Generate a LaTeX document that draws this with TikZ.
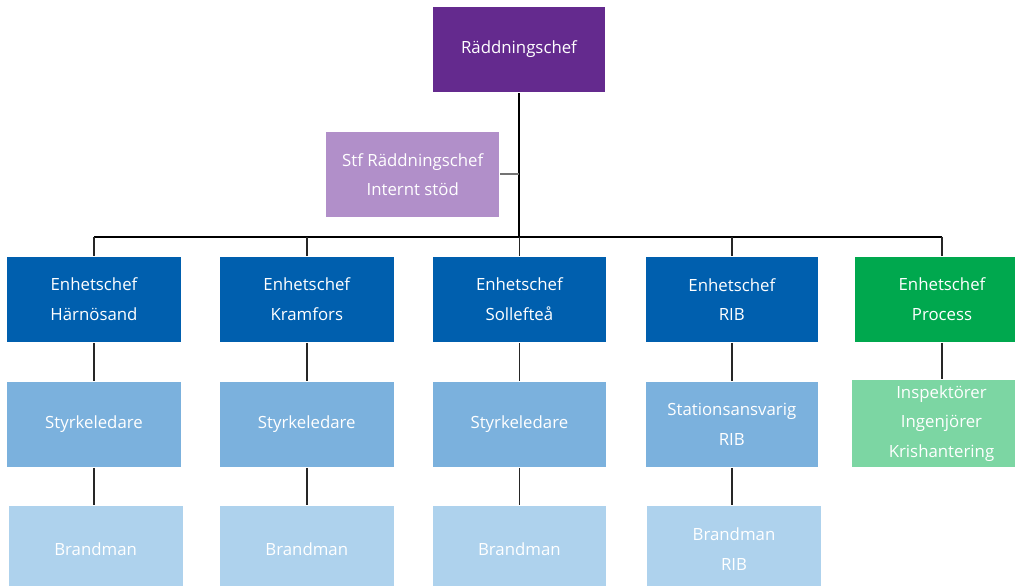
\documentclass[tikz,border=0pt]{standalone}
\usepackage{fontspec}
\setmainfont{Open Sans}
\begin{document}
\begin{tikzpicture}[x=1pt,y=-1pt,
  box/.style={rectangle, draw=white!60!black!0, line width=0.6pt, text=white, align=center,
    font=\fontsize{16.8}{29.3}\selectfont, inner sep=0pt, minimum height=86.5pt, minimum width=174.6pt},
  bar/.style={line width=2pt, black},
  link/.style={line width=1.6pt, black!85},
  slink/.style={line width=2pt, black!55}]
\definecolor{cRC}{HTML}{642A8E}
\definecolor{cSTF}{HTML}{B18FC9}
\definecolor{cE}{HTML}{005FAE}
\definecolor{cS}{HTML}{7BB1DD}
\definecolor{cB}{HTML}{AED2ED}
\definecolor{cG}{HTML}{00A84E}
\definecolor{cGL}{HTML}{7CD6A3}
\useasboundingbox (0,0) rectangle (1015,586);
\clip (0,0) rectangle (1015,586);
\node[box, fill=cRC, minimum width=172.6pt] (rc) at (519,49.5) {Räddningschef};
\node[box, fill=cSTF, minimum width=174pt] (stf) at (412.7,174.4) {Stf Räddningschef\\Internt stöd};
\node[box, fill=cE] (e1) at (94,299.3) {Enhetschef\\Härnösand};
\node[box, fill=cE] (e2) at (306.8,299.3) {Enhetschef\\Kramfors};
\node[box, fill=cE] (e3) at (519.4,299.3) {Enhetschef\\Sollefteå};
\node[box, fill=cE, minimum width=173pt] (e4) at (731.8,299.3) {Enhetschef\\RIB};
\node[box, fill=cG] (e5) at (942,299.3) {Enhetschef\\Process};
\node[box, fill=cS] (s1) at (94,424.3) {Styrkeledare};
\node[box, fill=cS] (s2) at (306.8,424.3) {Styrkeledare};
\node[box, fill=cS] (s3) at (519.4,424.3) {Styrkeledare};
\node[box, fill=cS, minimum width=173pt] (s4) at (731.8,424.3) {Stationsansvarig\\RIB};
\node[box, fill=cGL, minimum width=180pt, minimum height=88pt] (s5) at (941.5,423.5) {Inspektörer\\Ingenjörer\\Krishantering};
\node[box, fill=cB] (b1) at (95.6,549) {Brandman};
\node[box, fill=cB] (b2) at (306.8,549) {Brandman};
\node[box, fill=cB] (b3) at (519.4,549) {Brandman};
\node[box, fill=cB] (b4) at (734,549) {Brandman\\RIB};
\coordinate (hub) at (519,236.5);
\draw[bar] (rc.south) -- (hub);
\draw[slink] (stf.east) -- (stf.east -| hub);
\draw[bar] (e1.north |- hub) -- (e5.north |- hub);
\foreach \e in {e1,e2,e3,e4,e5} \draw[link] (\e.north |- hub) -- (\e.north);
\foreach \a/\b in {e1/s1,e2/s2,e3/s3,e4/s4} \draw[link] (\a.south) -- (\b.north);
\draw[link] (e5.south) -- (e5.south |- s5.north);
\foreach \a/\b in {s1/b1,s2/b2,s3/b3,s4/b4} \draw[link] (\a.south) -- (\a.south |- \b.north);
\end{tikzpicture}
\end{document}
